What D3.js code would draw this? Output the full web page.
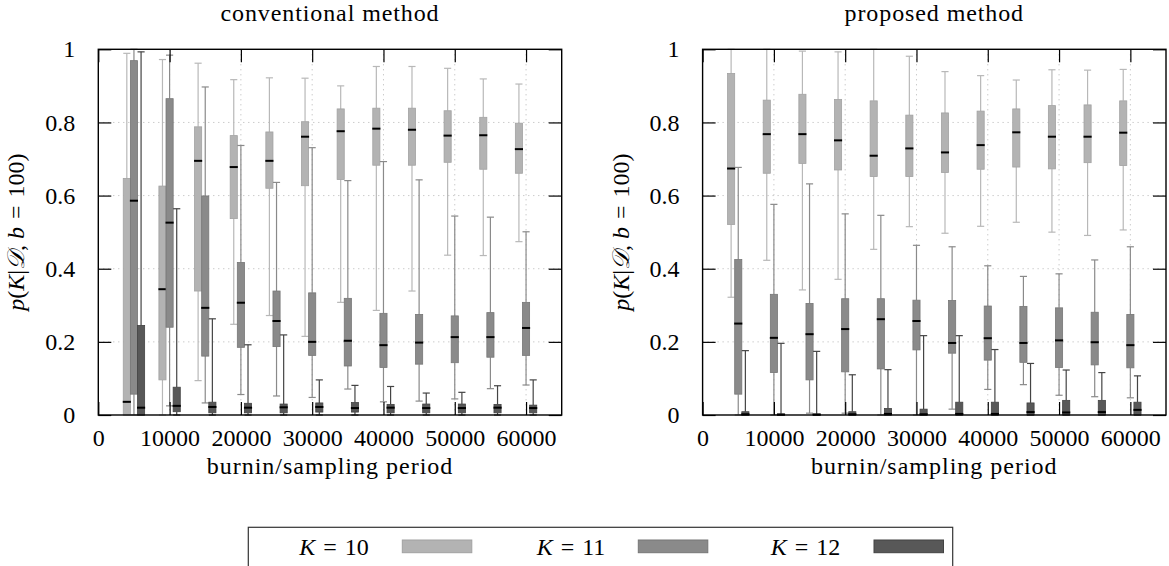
<!DOCTYPE html>
<html>
<head>
<meta charset="utf-8">
<script src="https://cdn.jsdelivr.net/npm/d3@7/dist/d3.min.js"></script>
<style>
  html, body { margin: 0; padding: 0; background: #fff; }
  svg { display: block; }
  text { font-family: "Liberation Serif", "DejaVu Serif", serif; fill: #000; }
</style>
</head>
<body>
<svg id="chart" width="1169" height="566"></svg>
<script>
// Burn-in / sampling periods (x positions of each group of boxes)
const periods = [5000, 10000, 15000, 20000, 25000, 30000, 35000, 40000, 45000, 50000, 55000, 60000];
const xTicks = [0, 10000, 20000, 30000, 40000, 50000, 60000];
const yTicks = [0, 0.2, 0.4, 0.6, 0.8, 1];
const seriesNames = ["K = 10", "K = 11", "K = 12"];

// Conventional method: five-number summaries per K
const convK10Low  = [0, 0, 0.094, 0.248, 0.272, 0.215, 0.308, 0.286, 0.339, 0.437, 0.436, 0.474];
const convK10Q1   = [0, 0.096, 0.339, 0.537, 0.620, 0.627, 0.644, 0.683, 0.683, 0.691, 0.672, 0.661];
const convK10Med  = [0.036, 0.344, 0.695, 0.678, 0.695, 0.761, 0.776, 0.783, 0.780, 0.764, 0.765, 0.727];
const convK10Q3   = [0.647, 0.626, 0.788, 0.764, 0.774, 0.802, 0.837, 0.839, 0.839, 0.832, 0.814, 0.798];
const convK10High = [0.989, 0.972, 0.962, 0.917, 0.922, 0.921, 0.900, 0.953, 0.953, 0.948, 0.919, 0.905];

const convK11Low  = [0, 0.025, 0.033, 0.056, 0.052, 0.048, 0.071, 0.036, 0.038, 0.044, 0.072, 0.082];
const convK11Q1   = [0.057, 0.240, 0.161, 0.185, 0.187, 0.163, 0.134, 0.130, 0.139, 0.143, 0.158, 0.163];
const convK11Med  = [0.586, 0.526, 0.293, 0.307, 0.257, 0.200, 0.203, 0.191, 0.198, 0.213, 0.213, 0.238];
const convK11Q3   = [0.969, 0.865, 0.599, 0.417, 0.339, 0.334, 0.319, 0.278, 0.275, 0.271, 0.280, 0.308];
const convK11High = [1.0, 0.984, 0.897, 0.737, 0.636, 0.731, 0.641, 0.693, 0.643, 0.544, 0.541, 0.501];

const convK12Low  = [0, 0, 0, 0, 0, 0, 0, 0, 0, 0, 0, 0];
const convK12Q1   = [0, 0.009, 0.006, 0.006, 0.006, 0.008, 0.008, 0.006, 0.006, 0.006, 0.006, 0.006];
const convK12Med  = [0.020, 0.025, 0.022, 0.020, 0.021, 0.022, 0.019, 0.020, 0.019, 0.019, 0.020, 0.019];
const convK12Q3   = [0.245, 0.076, 0.035, 0.032, 0.030, 0.033, 0.034, 0.029, 0.030, 0.030, 0.029, 0.027];
const convK12High = [0.993, 0.564, 0.263, 0.192, 0.219, 0.096, 0.081, 0.078, 0.060, 0.062, 0.080, 0.096];

// Proposed method
const propK10Low  = [0.322, 0.423, 0.342, 0.371, 0.453, 0.515, 0.497, 0.516, 0.527, 0.500, 0.491, 0.506];
const propK10Q1   = [0.521, 0.661, 0.688, 0.670, 0.652, 0.652, 0.663, 0.672, 0.678, 0.673, 0.690, 0.682];
const propK10Med  = [0.674, 0.768, 0.768, 0.751, 0.709, 0.729, 0.718, 0.738, 0.773, 0.761, 0.761, 0.772];
const propK10Q3   = [0.934, 0.861, 0.877, 0.863, 0.859, 0.820, 0.826, 0.831, 0.837, 0.846, 0.848, 0.859];
const propK10High = [1.0, 1.0, 0.995, 0.993, 1.0, 0.981, 0.939, 0.928, 0.916, 0.944, 0.943, 0.945];

const propK11Low  = [0, 0, 0.005, 0.005, 0, 0, 0.016, 0.070, 0.083, 0.054, 0.050, 0.047];
const propK11Q1   = [0.057, 0.116, 0.096, 0.118, 0.126, 0.178, 0.169, 0.150, 0.144, 0.130, 0.137, 0.129];
const propK11Med  = [0.250, 0.211, 0.221, 0.235, 0.262, 0.257, 0.197, 0.210, 0.197, 0.204, 0.199, 0.191];
const propK11Q3   = [0.425, 0.330, 0.305, 0.318, 0.318, 0.314, 0.313, 0.298, 0.297, 0.293, 0.281, 0.275];
const propK11High = [0.677, 0.576, 0.632, 0.550, 0.546, 0.464, 0.460, 0.408, 0.379, 0.386, 0.424, 0.460];

const propK12Low  = [0, 0, 0, 0, 0, 0, 0, 0, 0, 0, 0, 0];
const propK12Q1   = [0, 0, 0, 0, 0, 0, 0, 0, 0, 0, 0, 0];
const propK12Med  = [0.002, 0.001, 0.001, 0.002, 0.003, 0.002, 0.003, 0.003, 0.008, 0.007, 0.008, 0.014];
const propK12Q3   = [0.009, 0.003, 0.003, 0.009, 0.018, 0.016, 0.035, 0.035, 0.033, 0.040, 0.040, 0.035];
const propK12High = [0.176, 0.196, 0.174, 0.110, 0.124, 0.217, 0.217, 0.179, 0.141, 0.123, 0.116, 0.107];

// Per-K styling
const boxFill    = ["#b3b3b3", "#8a8a8a", "#585858"];
const boxStroke  = ["#a2a2a2", "#767676", "#434343"];
const whiskColor = ["#b8b8b8", "#8a8a8a", "#444444"];

function pack(low, q1, med, q3, high) {
  return periods.map((p, i) => ({ p, low: low[i], q1: q1[i], med: med[i], q3: q3[i], high: high[i] }));
}

const panels = [
  { title: "conventional method", left: 98.3, right: 561.7,
    series: [pack(convK10Low, convK10Q1, convK10Med, convK10Q3, convK10High),
             pack(convK11Low, convK11Q1, convK11Med, convK11Q3, convK11High),
             pack(convK12Low, convK12Q1, convK12Med, convK12Q3, convK12High)] },
  { title: "proposed method", left: 702.6, right: 1166,
    series: [pack(propK10Low, propK10Q1, propK10Med, propK10Q3, propK10High),
             pack(propK11Low, propK11Q1, propK11Med, propK11Q3, propK11High),
             pack(propK12Low, propK12Q1, propK12Med, propK12Q3, propK12High)] }
];

const svg = d3.select("#chart");
svg.append("rect").attr("width", 1169).attr("height", 566).attr("fill", "#fff");

const plotTop = 49.3, plotBottom = 415;
const fs = 24;
const tickLen = 13;
const MSP = "\u2004"; // slightly wider space around "=" as in math typesetting

panels.forEach(panel => {
  const x = d3.scaleLinear().domain([0, 65000]).range([panel.left, panel.right]);
  const y = d3.scaleLinear().domain([0, 1]).range([plotBottom, plotTop]);
  const g = svg.append("g");

  // dotted grid
  const grid = g.append("g").attr("stroke", "#b5b5b5").attr("stroke-width", 1)
    .attr("stroke-dasharray", "1,4");
  xTicks.filter(t => t > 0).forEach(t => {
    grid.append("line").attr("x1", x(t)).attr("x2", x(t)).attr("y1", plotTop).attr("y2", plotBottom);
  });
  yTicks.filter(t => t > 0 && t < 1).forEach(t => {
    grid.append("line").attr("x1", panel.left).attr("x2", panel.right).attr("y1", y(t)).attr("y2", y(t));
  });

  // box plots
  const bw = x(1000) - x(0);
  panel.series.forEach((data, s) => {
    const off = (s - 1) * 1000;
    const sg = g.append("g");
    data.forEach(d => {
      const cx = x(d.p + off);
      // whiskers
      sg.append("line").attr("x1", cx).attr("x2", cx).attr("y1", y(d.q1)).attr("y2", y(d.low))
        .attr("stroke", whiskColor[s]).attr("stroke-width", 1.2);
      sg.append("line").attr("x1", cx).attr("x2", cx).attr("y1", y(d.q3)).attr("y2", y(d.high))
        .attr("stroke", whiskColor[s]).attr("stroke-width", 1.2);
      // caps
      [d.low, d.high].forEach(v => {
        sg.append("line").attr("x1", cx - bw / 2).attr("x2", cx + bw / 2).attr("y1", y(v)).attr("y2", y(v))
          .attr("stroke", whiskColor[s]).attr("stroke-width", 1.2);
      });
      // box
      sg.append("rect").attr("x", cx - bw / 2).attr("width", bw)
        .attr("y", y(d.q3)).attr("height", Math.max(0.5, y(d.q1) - y(d.q3)))
        .attr("fill", boxFill[s]).attr("stroke", boxStroke[s]).attr("stroke-width", 0.8);
      // median
      sg.append("line").attr("x1", cx - bw / 2 - 0.5).attr("x2", cx + bw / 2 + 0.5)
        .attr("y1", y(d.med)).attr("y2", y(d.med))
        .attr("stroke", "#000").attr("stroke-width", 2);
    });
  });

  // axes with inward ticks on all four sides
  const fmtY = d => (d === 0 ? "0" : d === 1 ? "1" : d3.format(".1f")(d));
  const axB = g.append("g").attr("transform", `translate(0,${plotBottom})`)
    .call(d3.axisBottom(x).tickValues(xTicks).tickSizeInner(-tickLen).tickSizeOuter(0).tickPadding(14).tickFormat(d3.format("d")));
  const axT = g.append("g").attr("transform", `translate(0,${plotTop})`)
    .call(d3.axisTop(x).tickValues(xTicks).tickSizeInner(-tickLen).tickSizeOuter(0).tickFormat(""));
  const axL = g.append("g").attr("transform", `translate(${panel.left},0)`)
    .call(d3.axisLeft(y).tickValues(yTicks).tickSizeInner(-tickLen).tickSizeOuter(0).tickPadding(23).tickFormat(fmtY));
  const axR = g.append("g").attr("transform", `translate(${panel.right},0)`)
    .call(d3.axisRight(y).tickValues(yTicks).tickSizeInner(-tickLen).tickSizeOuter(0).tickFormat(""));
  [axB, axT, axL, axR].forEach(a => {
    a.attr("font-family", null).attr("font-size", null);
    a.select(".domain").remove();
    a.selectAll(".tick line").attr("stroke", "#000").attr("stroke-width", 1.2);
    a.selectAll("text").style("font-family", "'Liberation Serif', serif").style("font-size", fs + "px").attr("fill", "#000");
  });

  // frame
  g.append("rect").attr("x", panel.left).attr("y", plotTop)
    .attr("width", panel.right - panel.left).attr("height", plotBottom - plotTop)
    .attr("fill", "none").attr("stroke", "#000").attr("stroke-width", 1.4);

  const cxm = (panel.left + panel.right) / 2;
  // title
  g.append("text").attr("x", cxm).attr("y", 21).attr("text-anchor", "middle")
    .style("font-size", fs + "px").style("letter-spacing", "0.9px").text(panel.title);
  // x label
  g.append("text").attr("x", cxm).attr("y", 474).attr("text-anchor", "middle")
    .style("font-size", fs + "px").style("letter-spacing", "1px").text("burnin/sampling period");
  // y label
  const yl = g.append("text")
    .attr("transform", `translate(${panel.left - 74},${(plotTop + plotBottom) / 2}) rotate(-90)`)
    .attr("text-anchor", "middle").style("font-size", fs + "px");
  yl.append("tspan").attr("font-style", "italic").text("p");
  yl.append("tspan").text("(");
  yl.append("tspan").attr("font-style", "italic").text("K");
  yl.append("tspan").text("|");
  yl.append("tspan").attr("font-style", "italic").text("𝒟");
  yl.append("tspan").text(", ");
  yl.append("tspan").attr("font-style", "italic").text("b");
  yl.append("tspan").text(MSP + "=" + MSP + "100)");
});

// legend
const legend = svg.append("g");
legend.append("rect").attr("x", 248.3).attr("y", 527.3).attr("width", 704.4).attr("height", 60)
  .attr("fill", "#fff").attr("stroke", "#333").attr("stroke-width", 1.2);
const legTextX = [299.3, 536.7, 770.7];
const legSwatchX = [402.3, 638.3, 874];
seriesNames.forEach((name, i) => {
  const t = legend.append("text").attr("x", legTextX[i]).attr("y", 554.5).attr("text-anchor", "start")
    .style("font-size", fs + "px");
  const parts = name.split(" = ");
  t.append("tspan").attr("font-style", "italic").text(parts[0]);
  t.append("tspan").text(MSP + "=" + MSP + parts[1]);
  legend.append("rect").attr("x", legSwatchX[i]).attr("y", 540).attr("width", 69.5).attr("height", 12.7)
    .attr("fill", boxFill[i]).attr("stroke", boxStroke[i]).attr("stroke-width", 1);
});
</script>
</body>
</html>
